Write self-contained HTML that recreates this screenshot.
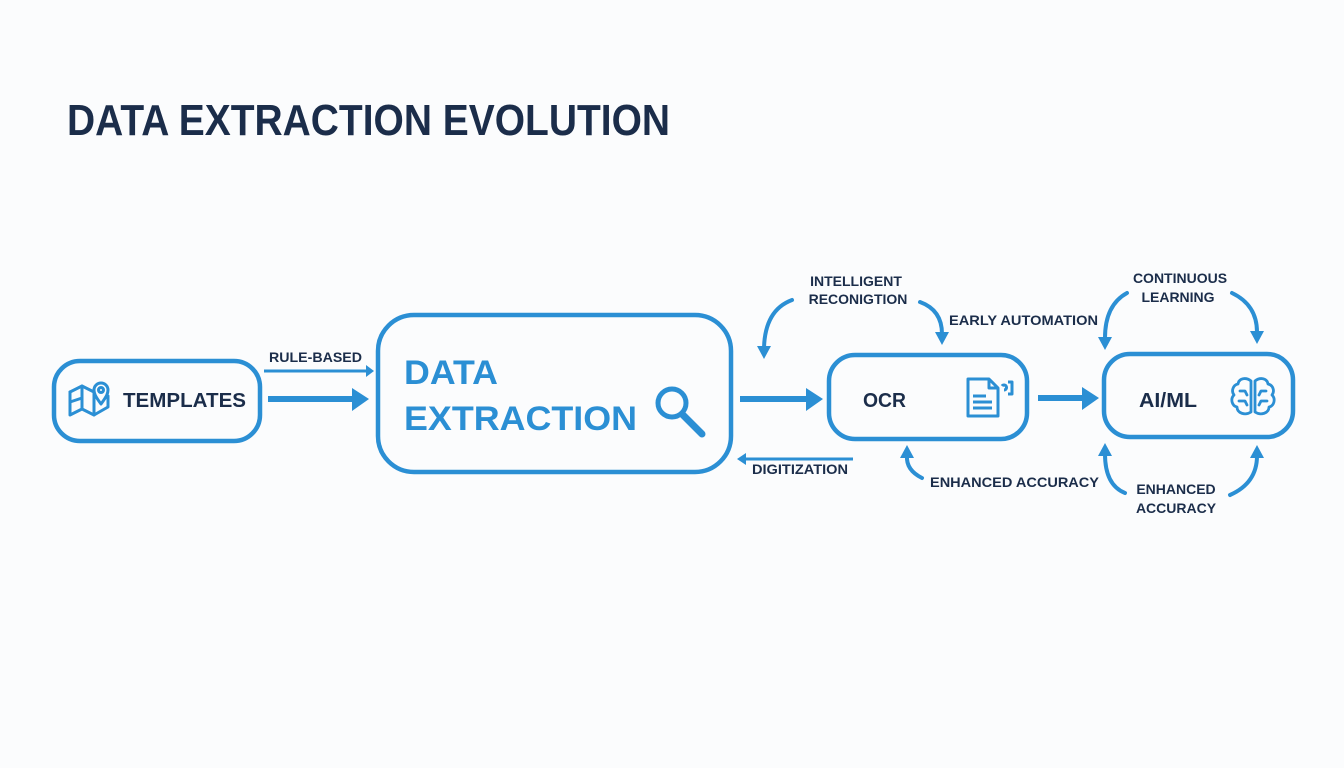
<!DOCTYPE html>
<html><head><meta charset="utf-8"><style>
html,body{margin:0;padding:0;background:#fbfcfd;}
svg{display:block;}
text{font-family:"Liberation Sans",Arial,sans-serif;font-weight:bold;}
</style></head><body>
<svg width="1344" height="768" viewBox="0 0 1344 768" xmlns="http://www.w3.org/2000/svg">
<rect width="1344" height="768" fill="#fbfcfd"/>
<text x="67" y="135" font-size="44" fill="#1b2d4a" textLength="603" lengthAdjust="spacingAndGlyphs">DATA EXTRACTION EVOLUTION</text>

<g fill="none" stroke="#2b8fd4" stroke-width="4.5">
<rect x="54" y="361" width="206" height="80" rx="26"/>
<rect x="378" y="315" width="353" height="157" rx="36"/>
<rect x="829" y="355" width="198" height="84" rx="26"/>
<rect x="1104" y="354" width="189" height="83" rx="26"/>
</g>

<!-- map icon -->
<g fill="none" stroke="#2b8fd4" stroke-width="3" stroke-linejoin="round" stroke-linecap="round">
<polyline points="70,392 70,415 82,409 94,415 108,407 108,396"/>
<polyline points="70,392 82,386 94,392"/>
<line x1="82" y1="386" x2="82" y2="409"/>
<line x1="94" y1="392" x2="94" y2="415"/>
<line x1="70" y1="402" x2="82" y2="398"/>
<path d="M101,404 C95,396 94,393 94,390 A7,7 0 0 1 108,390 C108,393 107,396 101,404 Z"/>
<circle cx="101" cy="390" r="2.5"/>
</g>
<text x="123" y="407" font-size="20.5" fill="#1b2d4a" textLength="123" lengthAdjust="spacingAndGlyphs">TEMPLATES</text>

<!-- rule-based arrows -->
<text x="269" y="362" font-size="14" fill="#1b2d4a" textLength="93" lengthAdjust="spacingAndGlyphs">RULE-BASED</text>
<line x1="264" y1="371" x2="368" y2="371" stroke="#2b8fd4" stroke-width="3"/>
<polygon points="366,365 374,371 366,377" fill="#2b8fd4"/>
<line x1="268" y1="399" x2="355" y2="399" stroke="#2b8fd4" stroke-width="6"/>
<polygon points="352,388 369,399 352,411" fill="#2b8fd4"/>

<!-- data extraction -->
<text x="404" y="384" font-size="34" fill="#2b8fd4" textLength="94" lengthAdjust="spacingAndGlyphs">DATA</text>
<text x="404" y="430" font-size="34" fill="#2b8fd4" textLength="233" lengthAdjust="spacingAndGlyphs">EXTRACTION</text>
<circle cx="672" cy="403" r="14" fill="none" stroke="#2b8fd4" stroke-width="5"/>
<line x1="683" y1="415" x2="702" y2="434" stroke="#2b8fd4" stroke-width="7" stroke-linecap="round"/>

<!-- to OCR -->
<line x1="740" y1="399" x2="808" y2="399" stroke="#2b8fd4" stroke-width="6"/>
<polygon points="806,388 823,399 806,411" fill="#2b8fd4"/>
<line x1="744" y1="459" x2="853" y2="459" stroke="#2b8fd4" stroke-width="3"/>
<polygon points="746,453 737,459 746,465" fill="#2b8fd4"/>
<text x="752" y="474" font-size="14" fill="#1b2d4a" textLength="96" lengthAdjust="spacingAndGlyphs">DIGITIZATION</text>

<!-- intelligent recognition -->
<text x="856" y="286" font-size="14" fill="#1b2d4a" text-anchor="middle">INTELLIGENT</text>
<text x="858" y="304" font-size="14" fill="#1b2d4a" text-anchor="middle">RECONIGTION</text>
<text x="949" y="325" font-size="14" fill="#1b2d4a" textLength="149" lengthAdjust="spacingAndGlyphs">EARLY AUTOMATION</text>
<g fill="none" stroke="#2b8fd4" stroke-width="4" stroke-linecap="round">
<path d="M792,300 Q765,310 764,348"/>
<path d="M920,302 Q942,310 942,334"/>
<path d="M922,478 Q906,470 907,456"/>
<path d="M1127,293 Q1105,305 1105,338"/>
<path d="M1232,293 Q1257,305 1257,332"/>
<path d="M1125,493 Q1105,485 1105,454"/>
<path d="M1230,495 Q1257,483 1257,456"/>
</g>
<g fill="#2b8fd4">
<polygon points="757,346 771,346 764,359"/>
<polygon points="935,332 949,332 942,345"/>
<polygon points="900,458 914,458 907,445"/>
<polygon points="1098,337 1112,337 1105,350"/>
<polygon points="1250,331 1264,331 1257,344"/>
<polygon points="1098,456 1112,456 1105,443"/>
<polygon points="1250,458 1264,458 1257,445"/>
</g>

<!-- OCR -->
<text x="863" y="407" font-size="20" fill="#1b2d4a" textLength="43" lengthAdjust="spacingAndGlyphs">OCR</text>
<g fill="none" stroke="#2b8fd4" stroke-width="3" stroke-linejoin="round">
<path d="M968,379 L989,379 L998,388 L998,416 L968,416 Z"/>
<path d="M989,379 L989,388 L998,388"/>
<line x1="973" y1="396" x2="986" y2="396"/>
<line x1="973" y1="402" x2="992" y2="402"/>
<line x1="973" y1="408" x2="992" y2="408"/>
<path d="M1008,382 L1012,382 L1012,394 L1008,394"/>
<path d="M1002,386 A2.5,2.5 0 1 1 1004,390"/>
</g>
<text x="930" y="487" font-size="14" fill="#1b2d4a" textLength="169" lengthAdjust="spacingAndGlyphs">ENHANCED ACCURACY</text>

<!-- to AI/ML -->
<line x1="1038" y1="398" x2="1085" y2="398" stroke="#2b8fd4" stroke-width="6"/>
<polygon points="1082,387 1099,398 1082,410" fill="#2b8fd4"/>

<!-- AI/ML -->
<text x="1180" y="283" font-size="14" fill="#1b2d4a" text-anchor="middle">CONTINUOUS</text>
<text x="1178" y="302" font-size="14" fill="#1b2d4a" text-anchor="middle">LEARNING</text>
<text x="1139" y="407" font-size="20" fill="#1b2d4a" textLength="58" lengthAdjust="spacingAndGlyphs">AI/ML</text>
<g fill="none" stroke="#2b8fd4" stroke-width="2.8" stroke-linecap="round" stroke-linejoin="round">
<path d="M1251,381 C1246,377 1239,378 1238,384 C1233,385 1231,391 1234,395 C1230,399 1232,406 1237,407 C1237,413 1245,416 1251,412 Z"/>
<path d="M1255,381 C1260,377 1267,378 1268,384 C1273,385 1275,391 1272,395 C1276,399 1274,406 1269,407 C1269,413 1261,416 1255,412 Z"/>
<path d="M1240,391 L1245,391 L1247,395"/>
<path d="M1239,401 L1245,401 L1247,405"/>
<path d="M1266,391 L1261,391 L1259,395"/>
<path d="M1267,401 L1261,401 L1259,405"/>
</g>
<text x="1176" y="494" font-size="14" fill="#1b2d4a" text-anchor="middle">ENHANCED</text>
<text x="1176" y="513" font-size="14" fill="#1b2d4a" text-anchor="middle">ACCURACY</text>
</svg>
</body></html>
